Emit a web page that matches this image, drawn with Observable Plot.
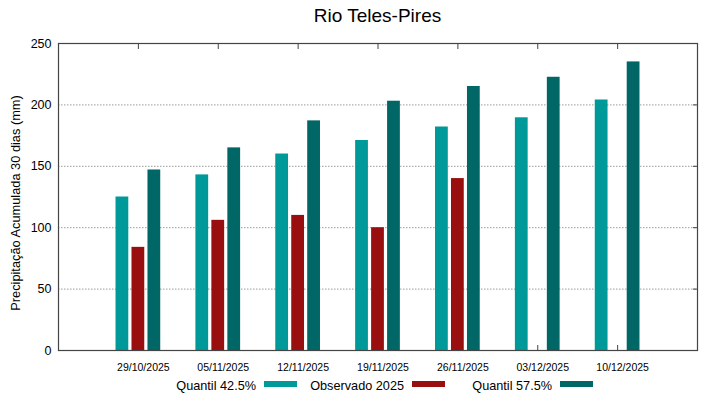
<!DOCTYPE html>
<html>
<head>
<meta charset="utf-8">
<script src="https://cdn.jsdelivr.net/npm/d3@7"></script>
<script src="https://cdn.jsdelivr.net/npm/@observablehq/plot@0.6"></script>
<style>
  html, body { margin: 0; padding: 0; background: #fff; }
  body { width: 719px; height: 399px; overflow: hidden; font-family: "Liberation Sans", Arial, sans-serif; color: #000; }
  #title { height: 32px; line-height: 32px; font-size: 19px; text-align: center; padding-left: 58px; padding-right: 22px; box-sizing: border-box; width: 719px; }
  #chart svg { display: block; }
  #legend { height: 25px; line-height: 25px; font-size: 12.7px; display: flex; padding-left: 149px; box-sizing: border-box; width: 719px; }
  .item { width: 148px; display: flex; align-items: center; white-space: nowrap; }
  .item .lab { width: 107px; text-align: right; }
  .item .sw { width: 33px; height: 6px; margin-left: 8px; margin-top: -5px; }
</style>
</head>
<body>
<div id="title">Rio Teles-Pires</div>
<div id="chart"></div>
<div id="legend"></div>
<script>
const dates = ["29/10/2025", "05/11/2025", "12/11/2025", "19/11/2025", "26/11/2025", "03/12/2025", "10/12/2025"];
const seriesNames = ["Quantil 42.5%", "Observado 2025", "Quantil 57.5%"];
const seriesColors = ["#009999", "#990f0f", "#006666"];
const quantil425 = [125, 143, 160, 171, 182, 189.5, 204];
const observado2025 = [84, 106, 110, 100, 140, null, null];
const quantil575 = [147, 165, 187, 203, 215, 222.5, 235];
const yTicks = [0, 50, 100, 150, 200, 250];
const gridValues = [50, 100, 150, 200];
const yLabel = "Precipitação Acumulada 30 dias (mm)";

const seriesValues = [quantil425, observado2025, quantil575];
const rows = [];
seriesValues.forEach((vals, k) => {
  vals.forEach((v, i) => {
    if (v != null) rows.push({i, k, date: dates[i], series: seriesNames[k], value: v});
  });
});
const halfBar = 0.08, step = 0.2;

const chart = Plot.plot({
  width: 719,
  height: 342,
  marginTop: 11,
  marginBottom: 24,
  marginLeft: 58,
  marginRight: 22,
  style: {background: "white", fontFamily: "Liberation Sans, Arial, sans-serif", color: "#000", overflow: "visible"},
  x: {type: "linear", domain: [-1, 7]},
  y: {domain: [0, 250]},
  color: {domain: seriesNames, range: seriesColors},
  marks: [
    Plot.ruleY(gridValues, {stroke: "#9a9a9a", strokeDasharray: "1.5,1.5", strokeWidth: 1}),
    Plot.axisX({anchor: "bottom", ticks: d3.range(dates.length), tickSize: 5, dy: -5, text: null, label: null, stroke: "#444"}),
    Plot.rectY(rows, {
      x1: d => d.i + (d.k - 1) * step - halfBar,
      x2: d => d.i + (d.k - 1) * step + halfBar,
      y: "value",
      fill: "series"
    }),
    Plot.frame({stroke: "#444", strokeWidth: 1.2}),
    Plot.axisX({anchor: "top", ticks: d3.range(dates.length), tickSize: 5, dy: 5, text: null, label: null, stroke: "#444"}),
    Plot.axisY({anchor: "right", ticks: yTicks, tickSize: 5, dx: -5, text: null, label: null, stroke: "#444"}),
    Plot.axisX({anchor: "bottom", ticks: d3.range(dates.length), tickFormat: i => dates[i], tickSize: 0, tickPadding: 13, fontSize: 10.5, dx: 5, label: null}),
    Plot.axisY({anchor: "left", ticks: yTicks, tickSize: 0, tickPadding: 7, fontSize: 12.5, label: null}),
    Plot.text([yLabel], {frameAnchor: "left", text: d => d, rotate: -90, textAnchor: "middle", dx: -42.5, dy: 6, fontSize: 12.8})
  ]
});
document.getElementById("chart").appendChild(chart);

const legend = document.getElementById("legend");
seriesNames.forEach((name, k) => {
  const item = document.createElement("div");
  item.className = "item";
  const lab = document.createElement("span");
  lab.className = "lab";
  lab.textContent = name;
  const sw = document.createElement("span");
  sw.className = "sw";
  sw.style.background = seriesColors[k];
  item.appendChild(lab);
  item.appendChild(sw);
  legend.appendChild(item);
});
</script>
</body>
</html>
